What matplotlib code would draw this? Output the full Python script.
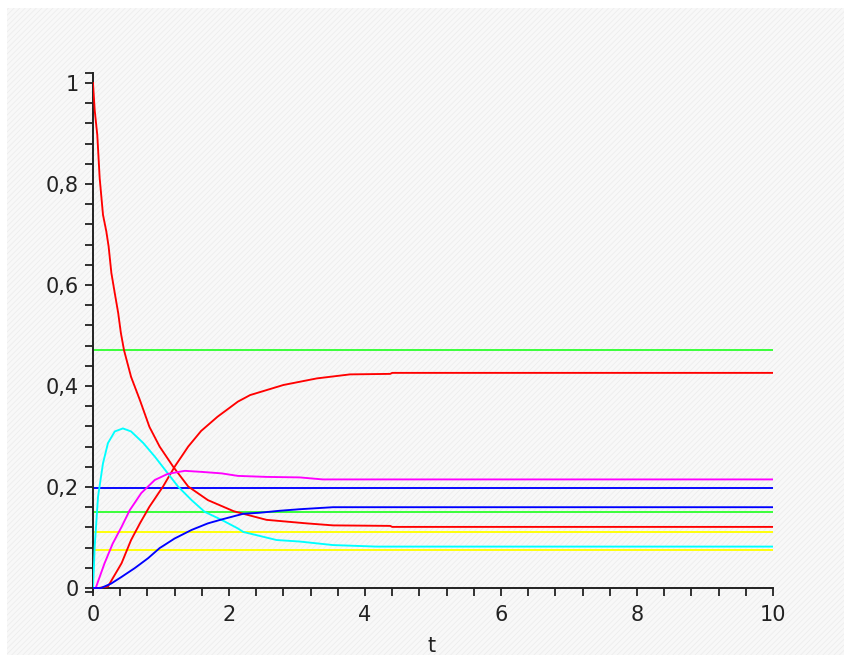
import matplotlib
matplotlib.use("Agg")
import matplotlib.pyplot as plt
from matplotlib.patches import Rectangle
from matplotlib.ticker import FixedLocator, FuncFormatter

# ---- data ----
t_red_dec = [0, 0.025, 0.063, 0.098, 0.147, 0.196, 0.23, 0.27, 0.32, 0.37, 0.41, 0.456,
             0.56, 0.69, 0.83, 0.98, 1.18, 1.40, 1.69, 2.07, 2.55, 3.14, 3.53, 4.37, 4.40, 10]
y_red_dec = [1.0, 0.946, 0.897, 0.812, 0.739, 0.706, 0.676, 0.624, 0.584, 0.545, 0.505, 0.471,
             0.418, 0.372, 0.319, 0.280, 0.240, 0.201, 0.174, 0.152, 0.135, 0.128, 0.124, 0.123, 0.121, 0.121]

t_red_inc = [0, 0.08, 0.22, 0.42, 0.56, 0.69, 0.83, 1.03, 1.20, 1.40, 1.59, 1.83, 2.13,
             2.31, 2.80, 3.29, 3.78, 4.37, 4.40, 10]
y_red_inc = [0, 0.0, 0.003, 0.049, 0.095, 0.128, 0.161, 0.201, 0.240, 0.280, 0.311, 0.339, 0.369,
             0.382, 0.402, 0.415, 0.423, 0.424, 0.426, 0.426]

t_cyan = [0, 0.01, 0.025, 0.074, 0.147, 0.22, 0.32, 0.44, 0.56, 0.74, 0.91, 1.10, 1.25,
          1.45, 1.64, 1.89, 2.13, 2.21, 2.70, 3.04, 3.53, 4.17, 10]
y_cyan = [0, 0.03, 0.082, 0.181, 0.247, 0.287, 0.310, 0.316, 0.310, 0.287, 0.260, 0.227, 0.201,
          0.174, 0.151, 0.135, 0.118, 0.111, 0.095, 0.092, 0.085, 0.082, 0.082]

t_magenta = [0, 0.04, 0.17, 0.29, 0.42, 0.54, 0.71, 0.91, 1.10, 1.35, 1.59, 1.89, 2.13,
             2.55, 3.04, 3.38, 10]
y_magenta = [0, 0.0, 0.049, 0.088, 0.121, 0.154, 0.188, 0.214, 0.226, 0.232, 0.230, 0.227, 0.222,
             0.220, 0.219, 0.215, 0.215]

t_blue = [0, 0.12, 0.27, 0.42, 0.61, 0.81, 0.98, 1.20, 1.45, 1.69, 1.90, 2.21, 2.45,
          2.75, 3.04, 3.53, 10]
y_blue = [0, 0.0, 0.009, 0.022, 0.039, 0.059, 0.079, 0.098, 0.115, 0.128, 0.136, 0.147, 0.149,
          0.153, 0.156, 0.160, 0.160]

# horizontal reference levels
h_levels = [0.471, 0.199, 0.150, 0.111, 0.075]
h_colors = ["#33ff33", "#0000ff", "#33ff33", "#ffff00", "#ffff00"]

x_ticks = [0, 2, 4, 6, 8, 10]
y_ticks = [0, 0.2, 0.4, 0.6, 0.8, 1.0]

# ---- figure ----
W, H = 845, 655
plt.rcParams["hatch.color"] = "#ececec"
plt.rcParams["hatch.linewidth"] = 0.6
fig = plt.figure(figsize=(W / 100, H / 100), dpi=100)
fig.patch.set_facecolor("white")
bg = Rectangle((7 / W, 0), 1 - 7 / W, 1 - 8 / H, transform=fig.transFigure,
               facecolor="#f8f8f8", edgecolor="#ededed", hatch="//////", lw=0, zorder=-10)
fig.patches.append(bg)

ylo, yhi = -0.008, 1.02
left_px, right_px = 93, 773
y0_px, y1_px = 588, 83
ppu = (y0_px - y1_px)
bot_px = y0_px - ylo * ppu
top_px = y0_px - yhi * ppu
ax = fig.add_axes([left_px / W, 1 - bot_px / H, (right_px - left_px) / W, (bot_px - top_px) / H])
ax.set_facecolor("none")
ax.set_zorder(5)

lw = 1.35
for lvl, c in zip(h_levels, h_colors):
    ax.plot([0, 10], [lvl, lvl], color=c, lw=lw, zorder=2)
ax.plot(t_red_dec, y_red_dec, color="#ff0000", lw=lw, zorder=3)
ax.plot(t_red_inc, y_red_inc, color="#ff0000", lw=lw, zorder=3)
ax.plot(t_cyan, y_cyan, color="#00ffff", lw=lw, zorder=3)
ax.plot(t_magenta, y_magenta, color="#ff00ff", lw=lw, zorder=3)
ax.plot(t_blue, y_blue, color="#0000ff", lw=lw, zorder=3)

ax.set_xlim(0, 10)
ax.set_ylim(ylo, yhi)
for s in ["top", "right"]:
    ax.spines[s].set_visible(False)
ax.spines["bottom"].set_position(("data", 0))
for s in ["left", "bottom"]:
    ax.spines[s].set_color("#222222")
    ax.spines[s].set_linewidth(1.4)

fmt = FuncFormatter(lambda v, p: ("%g" % v).replace(".", ","))
ax.xaxis.set_major_locator(FixedLocator(x_ticks))
ax.yaxis.set_major_locator(FixedLocator(y_ticks))
ax.xaxis.set_major_formatter(fmt)
ax.yaxis.set_major_formatter(fmt)
ax.xaxis.set_minor_locator(FixedLocator([i * 0.4 for i in range(26)]))
ax.yaxis.set_minor_locator(FixedLocator([i * 0.04 for i in range(26)] + [yhi, ylo]))
ax.tick_params(axis="both", which="both", direction="out", length=6, width=1.3,
               color="#222222", labelcolor="#222222", labelsize=15)
ax.tick_params(axis="y", pad=4)
ax.tick_params(axis="x", pad=6)
for lab in ax.get_xticklabels() + ax.get_yticklabels():
    lab.set_family("DejaVu Sans")

fig.text(432 / W, 1 - 646 / H, "t", ha="center", va="center", fontsize=15,
         family="DejaVu Sans", color="#222222")

fig.savefig("out.png", dpi=100)
